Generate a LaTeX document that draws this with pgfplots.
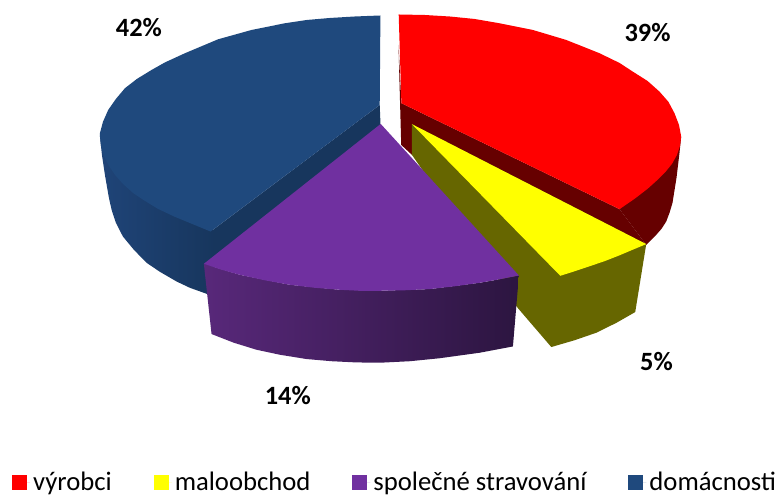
\documentclass[border=0pt]{standalone}
\usepackage{pgfplots}
\pgfplotsset{compat=1.18}
\usepackage{fontspec}
\setmainfont{Carlito}
\definecolor{cred}{HTML}{FF0000}
\definecolor{credd}{HTML}{660000}
\definecolor{cyel}{HTML}{FFFF00}
\definecolor{cyeld}{HTML}{666600}
\definecolor{cpur}{HTML}{7030A0}
\definecolor{cpurl}{HTML}{58287A}
\definecolor{cpurd}{HTML}{2C1540}
\definecolor{cblu}{HTML}{1F497D}
\definecolor{cblul}{HTML}{1F4478}
\definecolor{cblud}{HTML}{17365D}
\pgfplotsset{swatch/.style={legend image code/.code={\path (0bp,0bp) -- (18bp,0bp);\fill[##1] (0bp,-7.5bp) rectangle (15bp,7.5bp);}}}
\begin{document}
\begin{tikzpicture}
\begin{axis}[
  width=779bp, height=495bp, scale only axis,
  xmin=0, xmax=779, ymin=0, ymax=495, y dir=reverse,
  hide axis, clip=false,
  legend columns=-1,
  legend style={at={(axis cs:12,495)}, anchor=south west, draw=none, fill=none,
    inner xsep=0pt, inner ysep=2bp, font=\fontsize{26.8}{28}\selectfont,
    /tikz/every even column/.append style={column sep=39bp},
    nodes={inner xsep=3bp, inner ysep=0pt}},
]
\path (axis cs:0,0) rectangle (axis cs:779,495);
% red
\addplot[forget plot, draw=none, fill=credd] coordinates {(398.8,45)(401.5,145)(412.3,155)(646.7,245)(620,209.3)(401.7,103.3)} --cycle;
\addplot[forget plot, draw=none, fill=credd] coordinates {(681.7,136.7)(680,153)(677,178)(673,203)(670,213)(666.7,221.7)(662,229)(656.7,235)(646.7,245)(620,209.3)} --cycle;
\addplot[swatch, draw=none, fill=cred] coordinates {(399,14.5)(425,15)(450,16.5)(475,19)(500,23.3)(533.3,30)(566.7,40)(600,53.3)(620,63)(633.3,71.7)(648,81)(660,91.7)(669,102)(675,113.3)(679.5,125)(681.7,136.7)(680.5,146)(677.5,155)(672.5,164)(666,172)(658,180)(648,189)(635,199)(620,209.3)(401.7,103.3)} --cycle;
% yellow
\addplot[forget plot, draw=none, fill=cyeld] coordinates {(412.3,124.3)(646.7,244.3)(635.7,312.3)(617,323)(596.7,333)(575,340.5)(551.7,347.3)(518,308)(412.3,155)} --cycle;
\addplot[swatch, draw=none, fill=cyel] coordinates {(412.3,124.3)(646.7,244.3)(633,250)(620,255.5)(606,261)(590,266.5)(575,271.5)(560.7,276)} --cycle;
% blue sides
\addplot[forget plot, draw=none, fill=cblud] coordinates {(380,105)(210.7,231.7)(210.7,270)(381,130)} --cycle;
\addplot[forget plot, draw=none, left color=cblul, right color=cblud] coordinates {(100,136)(102,155)(105,175)(109,198)(111.7,210)(116,223)(123,236.7)(134,250)(146.7,263)(160,272)(176.7,281.7)(190,288)(206.7,294)(215,294)(215,231.7)} --cycle;
% purple
\addplot[forget plot, draw=none, left color=cpurl, right color=cpurd] coordinates {(204,264)(211.7,334.3)(234,343)(256.7,350)(280,355)(306.7,359.3)(332,361.5)(356.7,362.7)(380,363)(410,361.5)(440,358.5)(480,353)(513.3,346.7)(519.3,275.7)(500,279.5)(480,283)(430,289.3)(380,291)(340,290)(290,285)(240,275)} --cycle;
\addplot[swatch, draw=none, fill=cpur] coordinates {(381,124)(519.3,275.7)(500,279.5)(480,283)(455,286.5)(430,289.3)(405,290.5)(380,291)(360,291)(340,290)(315,288)(290,285)(265,280.5)(240,275)(222,270)(204,264)} --cycle;
% blue top
\addplot[swatch, draw=none, fill=cblu] coordinates {(380.7,15.5)(355,16.5)(330,18)(307,20)(285,23.3)(251.7,30)(218.3,39.3)(185,53.3)(165,62.5)(151.7,70)(137,79)(125,88.3)(116,99)(108.3,110)(103,122)(100,133.3)(100,136)(101,146)(104,156)(109,166)(115,175)(123,184)(133,193)(145,201)(158,209)(175,217)(192,224)(210.7,231.7)(380,105)} --cycle;
\legend{výrobci,maloobchod,společné stravování,domácnosti}
\node[font=\fontsize{26.5}{28}\selectfont\bfseries] at (axis cs:648,33) {39\%};
\node[font=\fontsize{26.5}{28}\selectfont\bfseries] at (axis cs:139,28) {42\%};
\node[font=\fontsize{26.5}{28}\selectfont\bfseries] at (axis cs:657,362) {5\%};
\node[font=\fontsize{26.5}{28}\selectfont\bfseries] at (axis cs:288,396) {14\%};
\end{axis}
\end{tikzpicture}
\end{document}
